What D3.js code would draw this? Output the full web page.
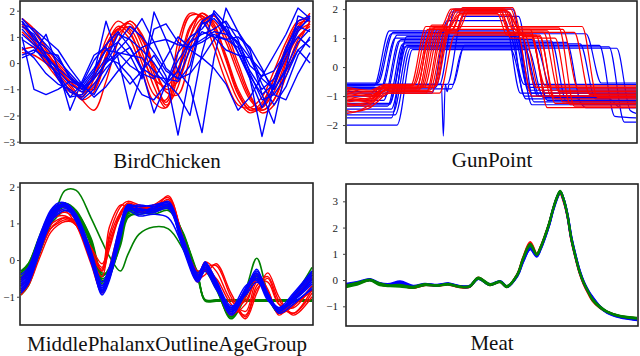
<!DOCTYPE html>
<html>
<head>
<meta charset="utf-8">
<script src="https://cdnjs.cloudflare.com/ajax/libs/d3/7.8.5/d3.min.js"></script>
<style>
  body { margin: 0; background: #fff; }
  text { font-family: "Liberation Serif", "Times New Roman", serif; }
</style>
</head>
<body>
<div id="vis"></div>
<script>
// ---------- data ----------

// BirdChicken: 25 samples per series (index 0..24)
const birdRed = [
  [1.6,0.9,0.2,-0.5,-1.0,-1.3,-0.6,0.9,1.6,1.2,0.0,-1.2,-1.4,0.8,1.9,1.7,0.6,-0.7,-1.6,-1.7,-1.3,-0.3,0.8,1.6,1.7],
  [0.5,0.6,0.3,-0.2,-0.8,-1.4,-1.8,-0.7,0.8,1.6,1.0,-0.4,-1.6,-0.9,1.0,1.9,1.5,0.2,-1.1,-1.8,-1.7,-0.9,0.3,1.3,1.9],
  [1.7,1.2,0.5,-0.2,-0.7,-1.1,-0.9,0.3,1.3,1.5,0.7,-0.6,-1.5,-0.3,1.4,1.8,1.3,0.1,-1.2,-1.8,-1.5,-0.6,0.6,1.5,1.6],
  [1.4,1.0,0.4,-0.1,-0.6,-0.9,-0.5,0.6,1.4,1.1,0.2,-0.6,-0.9,-0.2,1.0,1.7,1.6,0.8,-0.4,-1.4,-1.8,-1.4,-0.3,0.9,1.5],
  [1.2,0.7,0.0,-0.6,-1.1,-1.2,-0.4,0.7,1.3,0.9,-0.3,-1.5,-1.7,0.4,1.8,1.8,0.9,-0.3,-1.4,-1.9,-1.6,-0.6,0.5,1.4,1.8],
  [0.4,0.3,0.0,-0.3,-0.7,-1.0,-0.8,0.2,1.1,1.4,0.9,-0.2,-1.1,-1.2,0.2,1.5,1.8,1.2,0.0,-1.2,-1.9,-1.6,-0.5,0.7,1.6],
  [1.7,1.3,0.6,0.0,-0.5,-0.9,-1.0,0.1,1.2,1.6,1.1,-0.1,-1.0,-0.7,0.6,1.6,1.8,1.0,-0.2,-1.3,-1.8,-1.4,0.0,1.2,1.5],
  [1.5,0.8,0.1,-0.4,-0.9,-1.4,-1.1,0.3,1.3,1.3,0.4,-0.9,-1.7,-0.5,1.3,1.9,1.4,0.3,-1.0,-1.7,-1.7,-1.1,0.1,1.0,1.4]
];
const birdBlue = [
  [1.6,1.0,0.3,-0.3,-0.8,-1.1,-0.6,0.0,0.4,0.3,0.2,-0.3,-0.8,-0.3,0.8,1.5,1.7,1.2,0.4,-0.5,-1.2,-0.8,0.2,1.2,1.8],
  [1.0,-1.0,-1.2,-1.0,-0.7,-0.9,-0.3,0.5,0.4,-0.1,-0.4,-0.6,0.2,1.0,0.6,0.8,1.1,0.9,0.6,-0.3,-1.0,-0.6,0.4,1.3,1.7],
  [0.2,0.4,1.1,-0.2,-1.8,-0.7,0.3,0.6,-0.2,-0.8,-0.3,0.3,-0.5,-2.75,-0.4,1.6,1.9,1.2,0.8,-0.1,-0.5,-0.3,0.4,1.0,0.6],
  [1.7,1.2,0.7,0.2,-0.5,-1.0,-0.4,1.6,0.2,-1.75,-0.4,1.3,1.5,0.8,0.5,0.2,-0.2,-0.8,-1.8,-1.3,-0.5,0.3,1.1,2.1,1.7],
  [1.3,0.8,0.2,-0.2,-0.6,-0.8,-0.2,0.5,0.8,0.3,-0.6,1.95,0.9,-0.3,-0.9,-2.65,0.2,2.1,1.2,0.3,-0.6,-1.0,-0.3,0.5,0.9],
  [0.9,0.6,0.0,-0.4,-1.1,-1.3,-0.8,-0.2,0.3,0.6,-0.3,-1.9,-0.8,0.4,1.0,1.3,1.9,1.3,0.7,-0.6,-2.8,-0.8,0.6,1.4,1.2],
  [1.6,0.9,0.6,0.1,-0.4,-0.9,-1.2,-0.4,0.5,1.0,1.7,0.8,-0.2,-0.6,-0.4,0.2,0.9,1.4,1.2,0.5,-1.2,-2.3,-0.2,1.8,1.6],
  [0.3,0.5,0.2,-0.5,-1.3,-1.2,-0.5,0.2,0.0,-0.5,-1.2,-1.4,-0.8,0.1,0.8,1.1,1.3,1.6,0.9,-0.4,-1.4,-1.2,-0.5,0.5,0.0],
  [1.4,1.1,0.3,-0.6,-1.3,-0.8,0.1,0.7,1.2,0.6,-0.2,-0.5,-0.6,-0.7,-0.1,1.6,1.0,0.5,0.3,0.2,-0.3,-1.0,-0.2,0.8,1.3],
  [0.6,0.2,-0.4,-0.8,-1.0,-1.4,-1.0,0.1,1.1,0.9,0.5,0.0,-0.7,-1.2,-2.0,0.4,2.0,1.5,0.4,-0.6,-1.7,-0.9,0.5,1.6,1.8],
  [1.1,0.7,0.4,0.3,-0.6,-1.0,-0.6,0.0,0.8,1.4,1.0,0.4,-0.3,-0.6,0.5,1.2,1.0,0.9,1.0,0.6,-0.2,-1.2,-1.4,-0.4,0.4],
  [1.5,1.3,0.9,0.5,-0.2,-0.8,-1.3,-0.9,-0.3,0.2,0.6,0.8,0.9,0.7,0.6,0.9,1.2,1.1,0.8,0.2,-0.8,-1.6,-0.9,0.3,1.0]
];

// GunPoint: key points [sample, value], 150 samples
const gunBlue = [
  [[0,-0.55],[16,-0.55],[24,1.2],[84,1.2],[92,-0.6],[150,-0.6]],
  [[0,-0.65],[14,-0.65],[22,1.25],[86,1.25],[94,-0.7],[150,-0.7]],
  [[0,-0.75],[18,-0.75],[26,1.1],[88,1.1],[96,-0.9],[150,-0.9]],
  [[0,-0.85],[17,-0.85],[25,1.0],[91,1.0],[99,-1.0],[150,-1.0]],
  [[0,-1.0],[20,-1.0],[28,0.95],[96,0.95],[104,-1.15],[150,-1.15]],
  [[0,-1.15],[19,-1.15],[27,0.9],[106,0.9],[114,-1.2],[150,-1.2]],
  [[0,-1.25],[22,-1.25],[30,0.85],[114,0.85],[122,-1.3],[150,-1.3]],
  [[0,-1.35],[21,-1.35],[29,0.8],[121,0.8],[129,-1.1],[136,-1.1],[142,-1.4],[150,-1.4]],
  [[0,-1.45],[23,-1.45],[31,0.75],[131,0.75],[139,-1.7],[150,-1.75]],
  [[0,-1.55],[24,-1.55],[32,0.7],[136,0.7],[144,-1.9],[150,-1.9]],
  [[0,-1.65],[25,-1.65],[33,0.65],[140,0.65],[147,-1.5],[150,-1.6]],
  [[0,-2.0],[26,-2.0],[34,0.6],[85,0.6],[93,-1.1],[150,-1.1]],
  [[0,-1.75],[23,-1.75],[31,1.05],[88,1.05],[96,-1.3],[150,-1.3]],
  [[0,-0.6],[15,-0.6],[23,1.15],[124,1.15],[132,-0.55],[150,-0.55]],
  [[0,-1.3],[22,-1.3],[30,0.7],[92,0.7],[100,-1.0],[118,-1.0],[124,-1.4],[150,-1.4]],
  [[0,-0.6],[48,-0.6],[56,2.0],[86,2.0],[94,-0.8],[150,-0.8]],
  [[0,-0.7],[46,-0.7],[54,1.9],[84,1.9],[92,-1.0],[150,-1.0]],
  [[0,-0.65],[49,-0.6],[50,-2.38],[51,-0.6],[52,-0.6],[60,1.75],[89,1.75],[97,-1.2],[150,-1.2]],
  [[0,-0.9],[44,-0.9],[52,1.6],[82,1.6],[90,-0.9],[150,-0.9]],
  [[0,-0.6],[51,-0.6],[52,-0.85],[53,-0.6],[55,-0.6],[61,0.75],[98,0.75],[106,-0.75],[150,-0.75]],
  [[0,-0.75],[54,-0.75],[60,0.6],[94,0.6],[102,-1.05],[150,-1.05]]
];
const gunRed = [
  [[0,-0.8],[12,-0.9],[20,-0.65],[34,-0.65],[42,1.3],[50,1.3],[55,2.0],[82,2.0],[87,1.2],[90,1.2],[98,-0.7],[150,-0.7]],
  [[0,-0.9],[12,-1.0],[20,-0.7],[36,-0.7],[44,1.35],[52,1.35],[57,1.95],[80,1.95],[85,1.15],[92,1.15],[100,-0.8],[150,-0.8]],
  [[0,-1.0],[12,-1.1],[21,-0.75],[38,-0.75],[46,1.4],[53,1.4],[58,1.9],[84,1.9],[89,1.3],[95,1.3],[103,-0.9],[150,-0.9]],
  [[0,-1.1],[12,-1.2],[22,-0.7],[40,-0.7],[48,1.25],[54,1.25],[59,1.85],[78,1.85],[83,1.1],[98,1.1],[106,-1.0],[150,-1.0]],
  [[0,-1.2],[12,-1.1],[20,-0.8],[42,-0.8],[50,1.3],[55,1.3],[60,2.05],[86,2.05],[91,1.05],[100,1.05],[108,-1.1],[150,-1.1]],
  [[0,-1.3],[12,-1.2],[21,-0.75],[36,-0.75],[44,1.45],[51,1.45],[56,1.95],[83,1.95],[88,1.25],[104,1.25],[112,-1.2],[150,-1.2]],
  [[0,-1.5],[3,-1.55],[12,-1.3],[22,-0.85],[44,-0.85],[52,1.2],[56,1.2],[61,1.9],[80,1.9],[85,1.0],[108,1.0],[116,-1.3],[150,-1.3]],
  [[0,-0.7],[12,-0.8],[20,-0.6],[35,-0.6],[43,1.15],[95,1.15],[103,-0.65],[150,-0.65]],
  [[0,-0.85],[12,-0.95],[21,-0.7],[39,-0.7],[47,1.3],[112,1.3],[120,-0.75],[150,-0.75]],
  [[0,-0.95],[12,-1.0],[22,-0.8],[43,-0.8],[51,1.2],[118,1.2],[126,-0.95],[150,-0.95]],
  [[0,-1.05],[12,-1.15],[20,-0.65],[46,-0.65],[54,1.4],[122,1.4],[130,-1.05],[150,-1.05]],
  [[0,-1.25],[12,-1.35],[22,-0.9],[48,-0.9],[56,1.1],[100,1.1],[108,-1.25],[150,-1.25]],
  [[0,-1.35],[12,-1.25],[21,-0.8],[37,-0.8],[45,1.35],[53,1.35],[58,1.8],[84,1.8],[89,1.35],[110,1.35],[118,-1.35],[150,-1.35]],
  [[0,-1.6],[4,-1.55],[12,-1.4],[22,-0.9],[41,-0.9],[49,1.25],[57,1.25],[62,2.0],[85,2.0],[90,1.1],[96,1.1],[104,-1.4],[150,-1.4]],
  [[0,-1.15],[12,-1.05],[20,-0.7],[45,-0.7],[53,1.3],[58,1.3],[63,1.9],[79,1.9],[84,1.2],[102,1.2],[110,-0.85],[150,-0.85]],
  [[0,-0.75],[12,-0.85],[20,-0.65],[33,-0.65],[41,1.4],[49,1.4],[54,2.0],[81,2.0],[86,1.3],[88,1.3],[96,-1.0],[150,-1.0]]
];

// MiddlePhalanxOutlineAgeGroup: values at these sample positions (80 samples)
const phalanxX = [0,2,5,8,10,12,15,19,22,24,27,29,32,36,40,44,48,50,53,57,61,64,67,70,74,79];
const phalanxGreen = [
  [-0.3,-0.1,0.6,1.25,1.45,1.5,1.3,0.45,-0.5,-0.35,0.6,1.3,1.35,1.4,1.45,0.6,-0.45,-1.1,-1.1,-1.1,-1.1,-1.1,-1.1,-1.1,-1.1,-1.1],
  [-0.45,-0.25,0.5,1.2,1.4,1.5,1.3,0.5,-0.55,-0.4,0.55,1.25,1.3,1.35,1.4,0.65,-0.5,-1.1,-1.1,-1.1,-1.1,-1.1,-1.1,-1.1,-1.1,-1.1],
  [-0.4,-0.2,0.55,1.25,1.45,1.55,1.35,0.55,-0.4,-0.3,0.5,1.2,1.25,1.3,1.4,0.7,-0.4,-1.12,-1.12,-1.12,-1.12,-1.12,-1.12,-1.12,-1.12,-1.12],
  [-0.3,-0.1,0.65,1.3,1.5,1.55,1.3,0.5,-0.45,-0.2,0.65,1.3,1.4,1.35,1.5,0.7,-0.45,-1.08,-1.08,-1.08,-1.08,-1.08,-1.08,-1.08,-1.08,-1.08],
  [-0.9,-0.65,0.2,0.95,1.5,1.9,1.9,1.15,0.5,0.1,-0.3,0.15,0.7,0.9,0.85,0.3,-0.5,-0.25,-0.75,-1.55,-0.9,-0.4,-1.0,-1.45,-1.0,-0.3],
  [-0.35,-0.15,0.6,1.25,1.4,1.45,1.3,0.6,-0.35,-0.3,0.4,1.15,1.3,1.25,1.35,0.75,-0.3,-0.3,-0.8,-1.55,-0.8,0.05,-0.9,-1.45,-1.0,-0.2],
  [-0.5,-0.3,0.45,1.15,1.35,1.45,1.25,0.45,-0.6,-0.4,0.6,1.35,1.4,1.3,1.45,0.55,-0.5,-0.2,-0.7,-1.4,-0.9,-0.45,-1.0,-1.35,-1.05,-0.4],
  [-0.95,-0.7,0.15,0.95,1.2,1.35,1.2,0.4,-0.65,-0.45,0.5,1.3,1.35,1.4,1.45,0.6,-0.5,-0.3,-0.75,-1.6,-1.0,-0.5,-1.05,-1.4,-1.1,-0.5]
];
const phalanxRed = [
  [-0.7,-0.45,0.35,0.95,1.1,1.15,0.95,0.15,-0.3,0.6,1.3,1.5,1.4,1.45,1.6,0.5,-0.4,-0.05,-0.3,-1.1,-1.4,-0.6,-0.6,-1.2,-1.3,-0.7],
  [-0.8,-0.55,0.25,0.85,1.0,1.1,0.95,0.25,-0.2,0.9,1.5,1.45,1.4,1.5,1.7,0.6,-0.5,-0.4,-0.1,-0.9,-1.55,-0.8,-0.5,-1.2,-1.45,-0.8],
  [-0.5,-0.25,0.6,1.25,1.35,1.35,0.95,-0.1,-0.9,-0.2,0.95,1.5,1.3,1.5,1.55,0.4,-0.6,-0.25,-0.7,-1.5,-1.0,-0.4,-0.8,-1.5,-1.1,-0.4],
  [-0.6,-0.35,0.45,1.05,1.25,1.3,1.1,0.05,-0.45,0.5,1.2,1.55,1.45,1.35,1.5,0.55,-0.35,-0.3,-0.5,-1.2,-1.5,-0.7,-0.45,-1.1,-1.45,-0.9],
  [-0.95,-0.7,0.05,0.75,0.95,1.05,1.0,0.35,-0.1,0.4,1.3,1.55,1.35,1.4,1.65,0.6,-0.45,-0.1,-0.55,-1.45,-1.2,-0.5,-0.85,-1.4,-1.2,-0.85],
  [-0.7,-0.45,0.4,1.15,1.4,1.45,1.1,0.0,-0.85,-0.45,0.75,1.4,1.45,1.4,1.5,0.45,-0.55,-0.2,-0.7,-1.4,-0.85,-0.5,-1.0,-1.35,-1.0,-0.5],
  [-0.55,-0.3,0.5,1.1,1.2,1.2,0.95,0.1,-0.25,0.7,1.45,1.6,1.5,1.4,1.75,0.55,-0.3,-0.2,-0.15,-1.0,-1.6,-0.9,-0.35,-1.0,-1.5,-1.0],
  [-0.85,-0.6,0.2,0.85,1.05,1.15,1.05,0.3,-0.3,0.3,1.25,1.5,1.3,1.45,1.5,0.5,-0.45,-0.15,-0.6,-1.3,-1.1,-0.55,-0.9,-1.45,-1.25,-0.7]
];
const phalanxBlue = [
  [-0.6,-0.35,0.5,1.25,1.45,1.5,1.15,0.1,-0.75,-0.3,0.9,1.45,1.35,1.4,1.5,0.4,-0.5,-0.15,-0.7,-1.35,-0.8,-0.45,-1.0,-1.35,-1.0,-0.45],
  [-0.75,-0.5,0.35,1.15,1.4,1.55,1.25,0.2,-0.85,-0.45,0.7,1.4,1.3,1.45,1.55,0.5,-0.45,-0.05,-0.6,-1.4,-0.9,-0.3,-0.9,-1.4,-1.1,-0.6],
  [-0.5,-0.25,0.6,1.3,1.5,1.5,1.05,-0.05,-0.9,-0.5,0.6,1.35,1.4,1.35,1.45,0.3,-0.6,-0.3,-0.8,-1.3,-0.7,-0.55,-1.1,-1.3,-0.9,-0.3],
  [-0.85,-0.6,0.25,1.05,1.3,1.4,1.2,0.25,-0.6,-0.2,1.0,1.5,1.45,1.5,1.55,0.6,-0.35,-0.1,-0.55,-1.25,-0.95,-0.6,-0.95,-1.45,-1.2,-0.75],
  [-0.4,-0.2,0.65,1.35,1.55,1.55,1.1,0.0,-0.8,-0.35,0.85,1.5,1.3,1.3,1.4,0.35,-0.55,-0.2,-0.75,-1.45,-0.75,-0.35,-1.05,-1.4,-0.95,-0.4],
  [-0.7,-0.45,0.4,1.2,1.45,1.55,1.2,0.1,-0.95,-0.55,0.75,1.4,1.5,1.45,1.5,0.45,-0.5,-0.1,-0.65,-1.3,-0.85,-0.5,-1.0,-1.3,-1.05,-0.55],
  [-0.9,-0.65,0.2,1.0,1.25,1.35,1.15,0.2,-0.7,-0.35,0.8,1.45,1.25,1.35,1.45,0.4,-0.4,-0.25,-0.7,-1.5,-0.9,-0.4,-0.9,-1.35,-1.15,-0.8],
  [-0.55,-0.3,0.55,1.3,1.5,1.45,1.05,0.0,-0.85,-0.4,0.95,1.4,1.35,1.4,1.6,0.45,-0.5,-0.05,-0.75,-1.35,-0.8,-0.25,-1.0,-1.4,-0.95,-0.35],
  [-0.65,-0.4,0.45,1.2,1.4,1.45,1.15,0.15,-0.7,-0.25,0.85,1.5,1.4,1.3,1.5,0.5,-0.45,-0.2,-0.65,-1.4,-0.85,-0.5,-1.05,-1.35,-1.05,-0.5],
  [-0.8,-0.55,0.3,1.1,1.35,1.5,1.2,0.15,-0.8,-0.4,0.7,1.35,1.2,1.25,1.15,0.35,-0.55,-0.15,-0.7,-1.3,-0.8,-0.35,-0.95,-1.3,-1.1,-0.65]
];

// Meat: values at these sample positions (448 samples)
const meatX = [0,17,37,52,68,83,103,121,140,157,175,190,203,221,237,247,263,272,283,293,299,306,312,318,324,329,334,340,346,352,359,365,372,379,390,401,421,447];
const meatRed = [
  [-0.22,-0.13,0.02,-0.16,-0.21,-0.19,-0.3,-0.18,-0.21,-0.16,-0.26,-0.25,0.09,-0.18,-0.06,-0.26,0.22,0.85,1.45,1.0,1.27,1.72,2.16,2.7,3.15,3.33,3.05,2.45,1.55,0.9,0.25,-0.15,-0.5,-0.8,-1.06,-1.22,-1.38,-1.45],
  [-0.24,-0.14,0.0,-0.17,-0.22,-0.2,-0.3,-0.19,-0.22,-0.17,-0.27,-0.26,0.07,-0.19,-0.07,-0.27,0.2,0.82,1.4,0.98,1.25,1.7,2.14,2.68,3.12,3.3,3.02,2.45,1.55,0.92,0.27,-0.13,-0.48,-0.78,-1.04,-1.21,-1.38,-1.46]
];
const meatBlue = [
  [-0.15,-0.08,0.03,-0.12,-0.15,-0.05,-0.22,-0.15,-0.19,-0.13,-0.23,-0.22,0.06,-0.16,-0.04,-0.24,0.15,0.7,1.2,0.92,1.2,1.65,2.1,2.65,3.1,3.35,3.1,2.52,1.65,1.0,0.35,-0.05,-0.4,-0.68,-1.0,-1.22,-1.4,-1.5],
  [-0.18,-0.1,0.0,-0.14,-0.17,-0.08,-0.25,-0.17,-0.2,-0.14,-0.24,-0.23,0.05,-0.18,-0.06,-0.26,0.16,0.72,1.18,0.9,1.18,1.64,2.1,2.66,3.12,3.37,3.08,2.5,1.62,0.98,0.33,-0.08,-0.42,-0.66,-1.02,-1.24,-1.42,-1.52],
  [-0.2,-0.12,0.01,-0.16,-0.19,-0.12,-0.27,-0.18,-0.2,-0.15,-0.25,-0.25,0.07,-0.18,-0.05,-0.26,0.18,0.76,1.28,0.94,1.22,1.68,2.12,2.7,3.15,3.38,3.1,2.5,1.6,0.96,0.31,-0.1,-0.44,-0.72,-1.03,-1.22,-1.4,-1.5]
];
const meatGreen = [
  [-0.22,-0.12,0.02,-0.15,-0.2,-0.18,-0.28,-0.17,-0.2,-0.15,-0.25,-0.24,0.08,-0.17,-0.05,-0.25,0.2,0.8,1.35,0.97,1.25,1.7,2.15,2.7,3.15,3.38,3.1,2.5,1.6,0.95,0.3,-0.1,-0.45,-0.75,-1.02,-1.2,-1.37,-1.45],
  [-0.27,-0.18,-0.02,-0.2,-0.24,-0.25,-0.3,-0.2,-0.22,-0.18,-0.27,-0.26,0.05,-0.2,-0.08,-0.27,0.17,0.78,1.3,0.95,1.22,1.68,2.12,2.68,3.12,3.35,3.08,2.48,1.58,0.93,0.28,-0.12,-0.47,-0.78,-1.05,-1.22,-1.39,-1.47],
  [-0.2,-0.1,0.0,-0.12,-0.22,-0.2,-0.25,-0.15,-0.21,-0.14,-0.24,-0.22,0.1,-0.15,-0.06,-0.23,0.22,0.84,1.38,1.0,1.27,1.73,2.18,2.72,3.18,3.4,3.12,2.52,1.62,0.97,0.32,-0.08,-0.43,-0.73,-1.0,-1.19,-1.36,-1.44]
];

// ---------- layout ----------
const onGrid = xs => s => s.map((v, i) => [xs[i], v]);
const birdGrid = d3.range(25);
const asIs = s => s;

const panels = [
  { id: 'bird', title: 'BirdChicken', frame: [20, 313, 1, 143], xDomain: [0, 24], xRange: [22, 310],
    yDomain: [-3.05, 2.37], ticks: [-3, -2, -1, 0, 1, 2], pad: 2, tx: 167, ty: 168,
    groups: [
      { series: birdRed, color: '#ff0000', width: 1.4, curve: d3.curveCatmullRom, pts: onGrid(birdGrid) },
      { series: birdBlue, color: '#0000ff', width: 1.4, curve: d3.curveLinear, pts: onGrid(birdGrid) }
    ] },
  { id: 'gun', title: 'GunPoint', frame: [346, 637, 1, 143], xDomain: [0, 150], xRange: [347, 636],
    yDomain: [-2.62, 2.28], ticks: [-2, -1, 0, 1, 2], pad: 5, tx: 492, ty: 167,
    groups: [
      { series: gunBlue, color: '#0000ff', width: 1.2, curve: d3.curveMonotoneX, pts: asIs },
      { series: gunRed, color: '#ff0000', width: 1.2, curve: d3.curveMonotoneX, pts: asIs }
    ] },
  { id: 'phalanx', title: 'MiddlePhalanxOutlineAgeGroup', frame: [20, 313, 183, 325], xDomain: [0, 79], xRange: [21, 312],
    yDomain: [-1.77, 2.1], ticks: [-1, 0, 1, 2], pad: 2, tx: 167, ty: 351,
    groups: [
      { series: phalanxGreen, color: '#008000', width: 1.6, curve: d3.curveCatmullRom, pts: onGrid(phalanxX) },
      { series: phalanxRed, color: '#ff0000', width: 1.4, curve: d3.curveCatmullRom, pts: onGrid(phalanxX) },
      { series: phalanxBlue, color: '#0000ff', width: 1.5, curve: d3.curveCatmullRom, pts: onGrid(phalanxX) }
    ] },
  { id: 'meat', title: 'Meat', frame: [346, 638, 184, 326], xDomain: [0, 447], xRange: [346, 637],
    yDomain: [-1.75, 3.66], ticks: [-1, 0, 1, 2, 3], pad: 5, tx: 492, ty: 350,
    groups: [
      { series: meatRed, color: '#ff0000', width: 2.2, curve: d3.curveCatmullRom, pts: onGrid(meatX) },
      { series: meatBlue, color: '#0000ff', width: 2.4, curve: d3.curveCatmullRom, pts: onGrid(meatX) },
      { series: meatGreen, color: '#008000', width: 2.0, curve: d3.curveCatmullRom, pts: onGrid(meatX) }
    ] }
];

const svg = d3.select('#vis').append('svg')
  .attr('width', 640)
  .attr('height', 356)
  .style('display', 'block');

panels.forEach(function(p) {
  const [x0, x1, y0, y1] = p.frame;
  const x = d3.scaleLinear().domain(p.xDomain).range(p.xRange);
  const y = d3.scaleLinear().domain(p.yDomain).range([y1, y0]);
  const g = svg.append('g').attr('class', 'panel ' + p.id);

  g.append('clipPath').attr('id', 'clip-' + p.id)
    .append('rect').attr('x', x0).attr('y', y0).attr('width', x1 - x0).attr('height', y1 - y0);

  const plot = g.append('g').attr('clip-path', 'url(#clip-' + p.id + ')');
  p.groups.forEach(function(grp) {
    const line = d3.line().x(d => x(d[0])).y(d => y(d[1])).curve(grp.curve);
    plot.selectAll(null)
      .data(grp.series)
      .enter().append('path')
      .attr('d', s => line(grp.pts(s)))
      .attr('fill', 'none')
      .attr('stroke', grp.color)
      .attr('stroke-width', grp.width)
      .attr('stroke-linejoin', 'round');
  });

  // frame
  g.append('rect')
    .attr('x', x0).attr('y', y0)
    .attr('width', x1 - x0).attr('height', y1 - y0)
    .attr('fill', 'none')
    .attr('stroke', '#222')
    .attr('stroke-width', 1.6);

  // y axis
  const axis = g.append('g')
    .attr('transform', `translate(${x0},0)`)
    .call(d3.axisLeft(y).tickValues(p.ticks).tickSize(3).tickPadding(p.pad).tickFormat(d3.format('d')))
    .attr('font-family', '"Liberation Serif", "Times New Roman", serif')
    .attr('font-size', 11);
  axis.select('.domain').remove();
  axis.selectAll('text').attr('fill', '#222');
  axis.selectAll('line').attr('stroke', '#444');

  // title under the panel
  g.append('text')
    .attr('x', p.tx)
    .attr('y', p.ty)
    .attr('text-anchor', 'middle')
    .style('font-size', '21px')
    .attr('fill', '#111')
    .text(p.title);
});
</script>
</body>
</html>
